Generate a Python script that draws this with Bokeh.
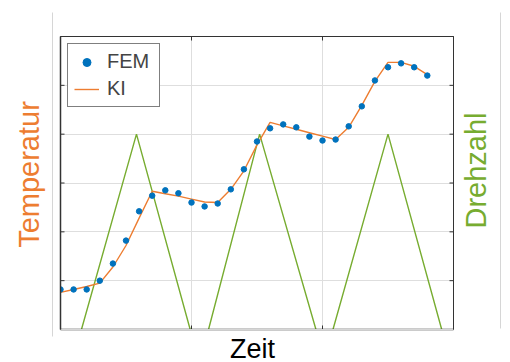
from bokeh.plotting import figure
from bokeh.layouts import row, column
from bokeh.models import Range1d, LinearAxis, FixedTicker, Legend, LegendItem
from bokeh.embed import file_html
from bokeh.resources import INLINE

# ---- data ----
t_points = list(range(29))
fem = [0.82, 0.82, 0.82, 1.00, 1.35, 1.82, 2.42, 2.74, 2.85, 2.79, 2.60, 2.52, 2.58, 2.87,
       3.28, 3.85, 4.12, 4.20, 4.14, 3.95, 3.87, 3.89, 4.16, 4.57, 5.10, 5.37, 5.45, 5.37, 5.20]
ki = [0.76, 0.82, 0.88, 0.95, 1.28, 1.72, 2.28, 2.83, 2.78, 2.73, 2.67, 2.61, 2.60, 2.87,
      3.25, 3.78, 4.24, 4.17, 4.10, 4.03, 3.96, 3.89, 4.14, 4.59, 5.08, 5.47, 5.47, 5.39, 5.22]
t_rpm = [1.6, 5.8, 9.9, float("nan"), 11.3, 15.2, 19.5, float("nan"), 20.8, 25.0, 29.1]
rpm = [0, 2000, 0, float("nan"), 0, 2000, 0, float("nan"), 0, 2000, 0]

X_MIN, X_MAX = 0, 30
Y_MIN, Y_MAX = 0, 6
RPM_MIN, RPM_MAX = 0, 3000
x_ticks = [10, 20]
y_ticks = [1, 2, 3, 4, 5]

BLUE = "#0072BD"
ORANGE = "#ED7D31"
GREEN = "#77AC30"
AXC = "#333333"
LIGHT = "#d6d6d6"
FONT = "Liberation Sans"


def blank(fig):
    fig.outline_line_color = None
    fig.background_fill_color = "white"
    fig.border_fill_color = "white"
    fig.xgrid.visible = False
    fig.ygrid.visible = False


def make_axis(fig, side, line_color=None, line_width=1, tick_out=0, label=None,
              label_color="black", label_size="28px", standoff=0, **kw):
    ax = LinearAxis(**kw)
    ax.ticker = FixedTicker(ticks=[])
    ax.major_tick_in = 0
    ax.major_tick_out = tick_out
    ax.major_tick_line_color = None
    ax.minor_tick_line_color = None
    ax.minor_tick_out = 0
    ax.minor_tick_in = 0
    ax.major_label_standoff = 0
    ax.axis_line_color = line_color
    ax.axis_line_width = line_width
    if label is not None:
        ax.axis_label = label
        ax.axis_label_text_font = FONT
        ax.axis_label_text_font_size = label_size
        ax.axis_label_text_font_style = "normal"
        ax.axis_label_text_color = label_color
        ax.axis_label_standoff = standoff
    fig.add_layout(ax, side)
    return ax


def strip(width, height, left, right, top, bottom):
    f = figure(width=width, height=height, output_backend="svg", toolbar_location=None,
               x_range=Range1d(0, 1), y_range=Range1d(0, 1),
               min_border_left=left, min_border_right=right,
               min_border_top=top, min_border_bottom=bottom,
               x_axis_location=None, y_axis_location=None)
    blank(f)
    return f


# ---- left strip: light frame line + "Temperatur" ----
f0 = strip(53, 348, 52, 0, 12, 12)
make_axis(f0, "left", LIGHT, 1)
make_axis(f0, "left", None, label="Temperatur", label_color=ORANGE, label_size="29px",
          standoff=8)

# ---- main plot ----
p = figure(width=402, height=333, output_backend="svg", toolbar_location=None,
           x_range=Range1d(X_MIN, X_MAX), y_range=Range1d(Y_MIN, Y_MAX),
           min_border_left=7, min_border_right=2, min_border_top=36, min_border_bottom=4,
           x_axis_location=None, y_axis_location=None)
p.extra_y_ranges = {"rpm": Range1d(RPM_MIN, RPM_MAX)}
p.outline_line_color = AXC
p.outline_line_width = 1
p.background_fill_color = "white"
p.border_fill_color = "white"

make_axis(p, "left", AXC, 1.5)
make_axis(p, "below", AXC, 1.5, tick_out=3)
make_axis(p, "below", LIGHT, 1)
make_axis(p, "above", AXC, 1)
make_axis(p, "right", AXC, 1, y_range_name="rpm")

p.xgrid.ticker = FixedTicker(ticks=x_ticks)
p.ygrid.ticker = FixedTicker(ticks=y_ticks)
p.xgrid.grid_line_color = "#dedede"
p.ygrid.grid_line_color = "#dedede"

# inward tick marks on all four sides
tx = 4 / 13.1   # 4 px in x data units
ty = 4 / 48.8   # 4 px in y data units
p.segment(x0=[X_MIN] * len(y_ticks), x1=[X_MIN + tx] * len(y_ticks), y0=y_ticks, y1=y_ticks,
          line_color=AXC, line_width=1)
p.segment(x0=[X_MAX] * len(y_ticks), x1=[X_MAX - tx] * len(y_ticks), y0=y_ticks, y1=y_ticks,
          line_color=AXC, line_width=1)
p.segment(x0=x_ticks, x1=x_ticks, y0=[Y_MIN] * len(x_ticks), y1=[Y_MIN + ty] * len(x_ticks),
          line_color=AXC, line_width=1)
p.segment(x0=x_ticks, x1=x_ticks, y0=[Y_MAX] * len(x_ticks), y1=[Y_MAX - ty] * len(x_ticks),
          line_color=AXC, line_width=1)

p.line(t_rpm, rpm, y_range_name="rpm", line_color=GREEN, line_width=1.4)
r_ki = p.line(t_points, ki, line_color=ORANGE, line_width=1.4)
r_fem = p.scatter(t_points, fem, size=5.5, fill_color=BLUE, line_color=BLUE)

legend = Legend(items=[LegendItem(label="FEM", renderers=[r_fem]),
                       LegendItem(label="KI", renderers=[r_ki])],
                location="top_left", margin=7, padding=6, spacing=4,
                glyph_width=25, label_standoff=8, label_width=46,
                label_text_font=FONT, label_text_font_size="20px",
                border_line_color="black", border_line_width=1,
                background_fill_color="white", background_fill_alpha=1)
p.add_layout(legend)

# ---- bottom strip: "Zeit" ----
fz = strip(393, 29, 0, 0, 0, 28)
make_axis(fz, "below", None, label="Zeit", label_size="27px", standoff=0)

# ---- right strip: "Drehzahl" (reading bottom to top) + light frame line ----
f2 = strip(55, 340, 45, 0, 6, 0)
make_axis(f2, "left", LIGHT, 1)
make_axis(f2, "left", None, label="Drehzahl", label_color=GREEN, label_size="29px",
          standoff=9)

layout = row(f0, column(p, fz, spacing=0), f2, spacing=0)
open("out.html", "w").write(file_html(layout, INLINE))
